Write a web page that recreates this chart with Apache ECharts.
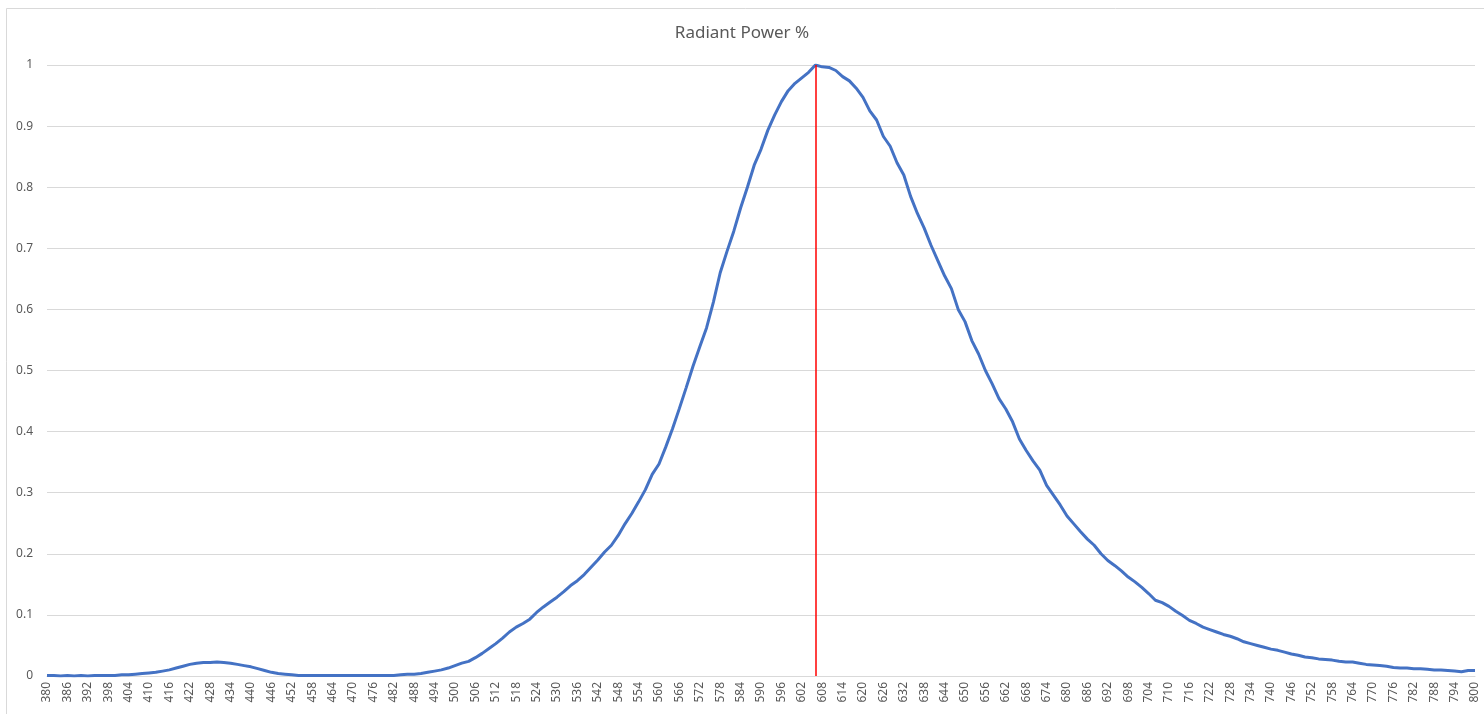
<!DOCTYPE html>
<html>
<head>
<meta charset="utf-8">
<title>Radiant Power %</title>
<script src="https://cdn.jsdelivr.net/npm/echarts@6/dist/echarts.min.js"></script>
<style>
  html, body { margin: 0; padding: 0; background: #fff; }
  #chart { width: 1484px; height: 714px; }
</style>
</head>
<body>
<div id="chart"></div>
<script>
// wavelength (nm), sampled every 2 nm from 380 to 800
const waveStart = 380;
const waveStep = 2;

// relative radiant power (one row = 20 nm)
const radiantPower = [
  0.001, 0.001, 0.000, 0.001, 0.000, 0.001, 0.000, 0.001, 0.001, 0.001, // 380
  0.001, 0.002, 0.002, 0.003, 0.004, 0.005, 0.006, 0.008, 0.010, 0.013, // 400
  0.016, 0.019, 0.021, 0.022, 0.022, 0.023, 0.022, 0.021, 0.019, 0.017, // 420
  0.015, 0.012, 0.009, 0.006, 0.004, 0.003, 0.002, 0.001, 0.001, 0.001, // 440
  0.001, 0.001, 0.001, 0.001, 0.001, 0.001, 0.001, 0.001, 0.001, 0.001, // 460
  0.001, 0.001, 0.002, 0.003, 0.003, 0.004, 0.006, 0.008, 0.010, 0.013, // 480
  0.017, 0.021, 0.024, 0.030, 0.037, 0.045, 0.053, 0.062, 0.072, 0.080, // 500
  0.086, 0.093, 0.104, 0.113, 0.121, 0.129, 0.138, 0.148, 0.156, 0.166, // 520
  0.178, 0.190, 0.203, 0.214, 0.230, 0.249, 0.266, 0.285, 0.305, 0.330, // 540
  0.347, 0.375, 0.405, 0.438, 0.472, 0.507, 0.539, 0.570, 0.612, 0.660, // 560
  0.695, 0.728, 0.766, 0.800, 0.836, 0.862, 0.893, 0.918, 0.940, 0.958, // 580
  0.970, 0.979, 0.988, 1.000, 0.997, 0.996, 0.991, 0.981, 0.974, 0.962, // 600
  0.947, 0.925, 0.910, 0.883, 0.867, 0.840, 0.820, 0.785, 0.757, 0.733, // 620
  0.705, 0.680, 0.655, 0.634, 0.600, 0.580, 0.549, 0.527, 0.500, 0.478, // 640
  0.454, 0.437, 0.416, 0.388, 0.369, 0.352, 0.337, 0.312, 0.296, 0.280, // 660
  0.262, 0.249, 0.236, 0.224, 0.214, 0.200, 0.189, 0.181, 0.172, 0.162, // 680
  0.154, 0.145, 0.135, 0.124, 0.120, 0.114, 0.106, 0.099, 0.091, 0.086, // 700
  0.080, 0.076, 0.072, 0.068, 0.065, 0.061, 0.056, 0.053, 0.050, 0.047, // 720
  0.044, 0.042, 0.039, 0.036, 0.034, 0.031, 0.030, 0.028, 0.027, 0.026, // 740
  0.024, 0.023, 0.023, 0.021, 0.019, 0.018, 0.017, 0.016, 0.014, 0.013, // 760
  0.013, 0.012, 0.012, 0.011, 0.010, 0.010, 0.009, 0.008, 0.007, 0.009, // 780
  0.009                                                                 // 800
];

// peak marker
const peakWave = 606;

const chart = echarts.init(document.getElementById('chart'));

let seriesData = radiantPower.map((v, i) => [waveStart + i * waveStep, v]);

let option = {
  backgroundColor: '#fff',
  textStyle: { fontFamily: 'Noto Sans, sans-serif' },
  title: {
    text: 'Radiant Power %',
    left: 'center',
    top: 20,
    textStyle: { fontSize: 17, fontWeight: 'normal', color: '#595959' }
  },
  // outer chart frame
  graphic: [{
    type: 'rect',
    shape: { x: 6.5, y: 8.5, width: 1500, height: 720 },
    style: { fill: 'none', stroke: '#d9d9d9', lineWidth: 1 },
    silent: true
  }],
  grid: { left: 47, right: 9, top: 65, bottom: 38 },
  xAxis: {
    type: 'value',
    min: 380,
    max: 800,
    interval: 6,
    axisLine: { show: true, lineStyle: { color: '#d9d9d9', width: 1 } },
    axisTick: { show: false },
    splitLine: { show: false },
    axisLabel: {
      rotate: 90,
      fontSize: 12,
      color: '#595959',
      margin: 6,
      showMinLabel: true,
      showMaxLabel: true
    }
  },
  yAxis: {
    type: 'value',
    min: 0,
    max: 1,
    interval: 0.1,
    axisLine: { show: false },
    axisTick: { show: false },
    splitLine: { lineStyle: { color: '#d9d9d9', width: 1 } },
    axisLabel: { fontSize: 12, color: '#595959', margin: 14 }
  },
  series: [{
    name: 'Radiant Power %',
    type: 'line',
    data: seriesData,
    showSymbol: false,
    smooth: false,
    lineStyle: { color: '#4472c4', width: 3 },
    z: 2,
    markLine: {
      silent: true,
      symbol: ['none', 'none'],
      label: { show: false },
      lineStyle: { color: '#ff0000', width: 1.5, type: 'solid' },
      data: [{ xAxis: peakWave }],
      z: 3
    }
  }]
};

chart.setOption(option);
</script>
</body>
</html>
